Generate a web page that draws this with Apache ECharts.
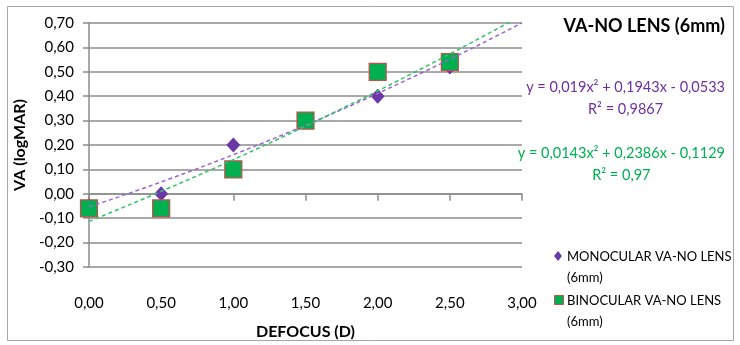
<!DOCTYPE html>
<html>
<head>
<meta charset="utf-8">
<script src="https://cdn.jsdelivr.net/npm/echarts@6/dist/echarts.min.js"></script>
<style>
  html, body { margin: 0; padding: 0; background: #fff; }
  #chart { width: 740px; height: 345px; }
</style>
</head>
<body>
<div id="chart"></div>
<script>
// Defocus levels (D)
var defocus = [0.0, 0.5, 1.0, 1.5, 2.0, 2.5];
// Visual acuity (logMAR), 6 mm pupil, no lens
var monocularVA = [-0.05, 0.00, 0.20, 0.30, 0.40, 0.52];
var binocularVA = [-0.06, -0.06, 0.10, 0.30, 0.50, 0.54];
// Polynomial (order 2) trendline coefficients: a*x^2 + b*x + c
var monoFit = [0.019, 0.1943, -0.0533];
var binoFit = [0.0143, 0.2386, -0.1129];
var monoR2 = '0,9867';
var binoR2 = '0,97';
var seriesNames = ['MONOCULAR VA-NO LENS', 'BINOCULAR VA-NO LENS'];
var seriesSub = '(6mm)';

var FONT = 'Lato, "Open Sans", sans-serif';
var MONO_COLOR = '#6c37a6';
var BINO_COLOR = '#00b050';
var BINO_BORDER = '#c0504d';

function pairs(xs, ys) {
  return xs.map(function (x, i) { return [x, ys[i]]; });
}
function curve(c) {
  var pts = [];
  for (var i = 0; i <= 60; i++) {
    var x = i * 0.05;
    pts.push([x, c[0] * x * x + c[1] * x + c[2]]);
  }
  return pts;
}
function comma(v) { return v.toFixed(2).replace('.', ','); }
function num(v) { return String(v).replace('.', ','); }
function eqText(c) {
  return 'y = ' + num(c[0]) + 'x² + ' + num(c[1]) + 'x - ' + num(-c[2]);
}
var measureCtx = document.createElement('canvas').getContext('2d');
function textWidth(t, font) { measureCtx.font = font; return measureCtx.measureText(t).width; }

var EQ_FONT = '14.5px ' + FONT;
var EQ_RIGHT = 725;
var monoEq = eqText(monoFit), binoEq = eqText(binoFit);
var monoEqCenter = EQ_RIGHT - textWidth(monoEq, EQ_FONT) / 2;
var binoEqCenter = EQ_RIGHT - textWidth(binoEq, EQ_FONT) / 2;
var KEY_FONT = '13px ' + FONT;

var chart = echarts.init(document.getElementById('chart'));
chart.setOption({
  animation: false,
  backgroundColor: '#fff',
  textStyle: { fontFamily: FONT },
  grid: { left: 89, right: 218, top: 23, bottom: 74 },
  xAxis: {
    type: 'value', min: 0, max: 3, interval: 0.5,
    name: 'DEFOCUS (D)', nameLocation: 'middle', nameGap: 57,
    nameTextStyle: { fontFamily: FONT, fontSize: 16, fontWeight: 'bold', color: '#000' },
    axisLine: { show: true, lineStyle: { color: '#8c8c8c', width: 1.5 } },
    axisTick: { show: true, length: 7, lineStyle: { color: '#8c8c8c', width: 1.5 } },
    axisLabel: { margin: 29, fontSize: 15, color: '#000', formatter: comma },
    splitLine: { show: false }
  },
  yAxis: {
    type: 'value', min: -0.3, max: 0.7, interval: 0.1,
    name: 'VA (logMAR)', nameLocation: 'middle', nameGap: 55, nameRotate: 90,
    nameTextStyle: { fontFamily: FONT, fontSize: 16, fontWeight: 'bold', color: '#000' },
    axisLine: { show: true, lineStyle: { color: '#8c8c8c', width: 1.5 } },
    axisTick: { show: true, length: 6, lineStyle: { color: '#8c8c8c', width: 1.5 } },
    axisLabel: { margin: 15, fontSize: 15, color: '#000', formatter: comma },
    splitLine: { show: true, lineStyle: { color: '#8c8c8c', width: 1.5 } }
  },
  graphic: [
    { type: 'rect', shape: { x: 7.5, y: 6.5, width: 726, height: 334 },
      style: { fill: 'none', stroke: '#a6a6a6', lineWidth: 1 }, silent: true },
    { type: 'text', style: { x: 725, y: 26, text: 'VA-NO LENS (6mm)', textAlign: 'right',
      textVerticalAlign: 'middle', fill: '#000', font: 'bold 18px ' + FONT } },
    { type: 'text', style: { x: EQ_RIGHT, y: 87, text: monoEq, textAlign: 'right',
      textVerticalAlign: 'middle', fill: '#7030a0', font: EQ_FONT } },
    { type: 'text', style: { x: monoEqCenter, y: 109, text: 'R² = ' + monoR2, textAlign: 'center',
      textVerticalAlign: 'middle', fill: '#7030a0', font: EQ_FONT } },
    { type: 'text', style: { x: EQ_RIGHT, y: 153, text: binoEq, textAlign: 'right',
      textVerticalAlign: 'middle', fill: '#00b050', font: EQ_FONT } },
    { type: 'text', style: { x: binoEqCenter, y: 175, text: 'R² = ' + binoR2, textAlign: 'center',
      textVerticalAlign: 'middle', fill: '#00b050', font: EQ_FONT } },
    // series key
    { type: 'polygon', shape: { points: [[558, 251], [562, 256], [558, 261], [554, 256]] },
      style: { fill: MONO_COLOR } },
    { type: 'text', style: { x: 567, y: 246, text: seriesNames[0] + '\n' + seriesSub,
      textVerticalAlign: 'top', fill: '#000', font: KEY_FONT, lineHeight: 21 } },
    { type: 'rect', shape: { x: 554.5, y: 295.5, width: 9, height: 9 },
      style: { fill: BINO_COLOR, stroke: BINO_BORDER, lineWidth: 1 } },
    { type: 'text', style: { x: 567, y: 290, text: seriesNames[1] + '\n' + seriesSub,
      textVerticalAlign: 'top', fill: '#000', font: KEY_FONT, lineHeight: 21 } }
  ],
  series: [
    {
      name: seriesNames[0], type: 'scatter',
      data: pairs(defocus, monocularVA),
      symbol: 'diamond', symbolSize: [14, 15],
      itemStyle: { color: MONO_COLOR, opacity: 1 }, z: 2
    },
    {
      name: seriesNames[1], type: 'scatter',
      data: pairs(defocus, binocularVA),
      symbol: 'rect', symbolSize: 17,
      itemStyle: { color: BINO_COLOR, borderColor: BINO_BORDER, borderWidth: 1.2, opacity: 1 }, z: 3
    },
    {
      name: 'mono-trend', type: 'line', data: curve(monoFit),
      showSymbol: false, symbol: 'none', clip: true,
      lineStyle: { color: '#9b62d6', width: 1.5, type: [4, 3] }, z: 4, silent: true
    },
    {
      name: 'bino-trend', type: 'line', data: curve(binoFit),
      showSymbol: false, symbol: 'none', clip: true,
      lineStyle: { color: '#2fc46a', width: 1.5, type: [4, 3] }, z: 4, silent: true
    }
  ]
});
</script>
</body>
</html>
